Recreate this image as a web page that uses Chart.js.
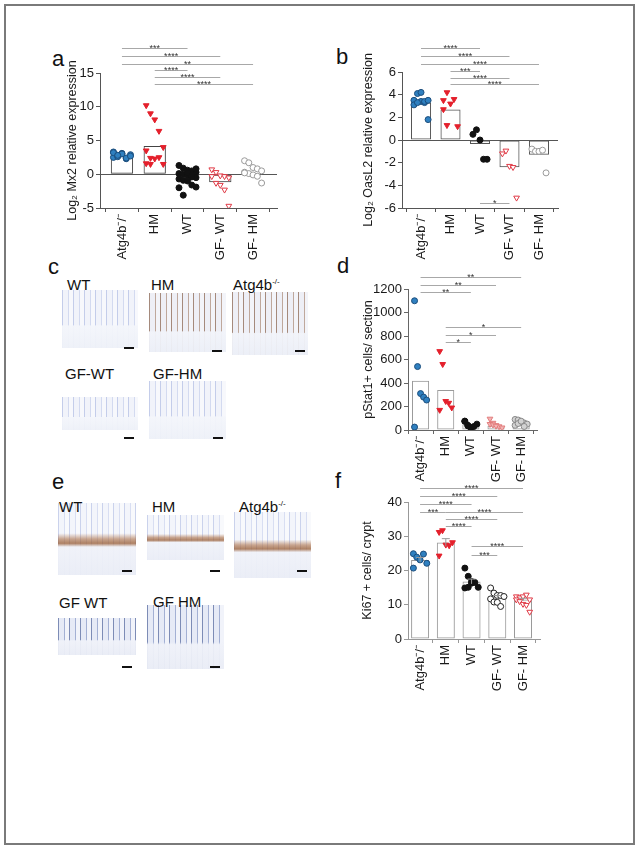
<!DOCTYPE html>
<html>
<head>
<meta charset="utf-8">
<script src="https://cdn.jsdelivr.net/npm/chart.js"></script>
<style>
  body { margin: 0; background: #fff; font-family: "Liberation Sans", Arial, sans-serif; }
  #page { position: relative; width: 639px; height: 849px; overflow: hidden; }
  #frame { position: absolute; left: 4px; top: 4px; width: 627px; height: 837px; border: 2px solid #7a7a7a; }
  canvas { position: absolute; }
  .letter { position: absolute; font-size: 22px; color: #111; line-height: 1; }
  .lbl { position: absolute; font-size: 15px; color: #111; line-height: 1; white-space: nowrap; z-index: 2; }
  .lbl sup { font-size: 8px; vertical-align: 6px; }
  .tile { position: absolute; }
  .blue {
    background:
      linear-gradient(to bottom, rgba(255,255,255,0) 0%, rgba(255,255,255,0) 60%, rgba(244,246,251,0.95) 62%, rgba(238,241,248,0.95) 100%),
      repeating-linear-gradient(90deg, #c4cdea 0 1px, #f1f3fa 1px 6px, #d3daf0 6px 7px, #f7f8fc 7px 11px);
  }
  .brownc {
    background:
      linear-gradient(to bottom, rgba(255,255,255,0) 0%, rgba(255,255,255,0) 64%, rgba(242,244,250,0.95) 66%, rgba(236,239,247,0.95) 100%),
      repeating-linear-gradient(90deg, #a58a7c 0 1px, #eeeff6 1px 6px, #bfa89c 6px 7px, #f3f4f9 7px 11px);
  }
  .browne {
    background:
      linear-gradient(to bottom, rgba(255,255,255,0) 0%, rgba(255,255,255,0) 42%, rgba(170,110,70,0.6) 50%, rgba(150,90,50,0.75) 56%, rgba(240,242,249,0.95) 61%, rgba(234,237,246,0.95) 100%),
      repeating-linear-gradient(90deg, #cad2ec 0 1px, #f3f5fb 1px 6px, #d8def2 6px 7px, #f8f9fc 7px 11px);
  }
  .bluee {
    background:
      linear-gradient(to bottom, rgba(255,255,255,0) 0%, rgba(255,255,255,0) 58%, rgba(240,242,249,0.95) 62%, rgba(234,237,246,0.95) 100%),
      repeating-linear-gradient(90deg, #7d8cb6 0 1px, #e6eaf6 1px 6px, #a3b0d4 6px 7px, #f1f3fa 7px 11px);
  }
  .bar { position: absolute; width: 10px; height: 1.5px; background: #111; z-index: 2; }
</style>
</head>
<body>
<div id="page">
  <div id="frame"></div>

  <div class="letter" style="left:52px;top:48px;">a</div>
  <div class="letter" style="left:336px;top:46px;">b</div>
  <div class="letter" style="left:48px;top:256px;">c</div>
  <div class="letter" style="left:337px;top:255px;">d</div>
  <div class="letter" style="left:52px;top:471px;">e</div>
  <div class="letter" style="left:335px;top:470px;">f</div>

  <!-- c: pStat1 stained sections -->
  <div class="lbl" style="left:67px;top:277px;">WT</div>
  <div class="lbl" style="left:151px;top:277px;">HM</div>
  <div class="lbl" style="left:233px;top:277px;">Atg4b<sup>-/-</sup></div>
  <div class="tile blue" style="left:62px;top:290px;width:76px;height:58px;"></div>
  <div class="tile brownc" style="left:149px;top:293px;width:77px;height:59px;"></div>
  <div class="tile brownc" style="left:232px;top:292px;width:76px;height:63px;"></div>
  <div class="bar" style="left:124px;top:347px;"></div>
  <div class="bar" style="left:212px;top:350px;"></div>
  <div class="bar" style="left:295px;top:350px;"></div>
  <div class="lbl" style="left:65px;top:366px;">GF-WT</div>
  <div class="lbl" style="left:153px;top:366px;">GF-HM</div>
  <div class="tile blue" style="left:62px;top:397px;width:76px;height:33px;"></div>
  <div class="tile blue" style="left:149px;top:381px;width:77px;height:58px;"></div>
  <div class="bar" style="left:124px;top:437px;"></div>
  <div class="bar" style="left:213px;top:437px;"></div>

  <!-- e: Ki67 stained sections -->
  <div class="lbl" style="left:59px;top:499px;">WT</div>
  <div class="lbl" style="left:152px;top:499px;">HM</div>
  <div class="lbl" style="left:239px;top:499px;">Atg4b<sup>-/-</sup></div>
  <div class="tile browne" style="left:58px;top:503px;width:78px;height:72px;"></div>
  <div class="tile browne" style="left:147px;top:515px;width:77px;height:45px;"></div>
  <div class="tile browne" style="left:234px;top:512px;width:77px;height:66px;"></div>
  <div class="bar" style="left:122px;top:570px;"></div>
  <div class="bar" style="left:210px;top:570px;"></div>
  <div class="bar" style="left:297px;top:570px;"></div>
  <div class="lbl" style="left:59px;top:595px;">GF WT</div>
  <div class="lbl" style="left:153px;top:594px;">GF HM</div>
  <div class="tile bluee" style="left:58px;top:618px;width:78px;height:37px;"></div>
  <div class="tile bluee" style="left:147px;top:605px;width:77px;height:64px;"></div>
  <div class="bar" style="left:122px;top:666px;"></div>
  <div class="bar" style="left:210px;top:666px;"></div>

  <canvas id="mx2Chart" width="240" height="240" style="left:50px;top:30px;"></canvas>
  <canvas id="oasChart" width="225" height="240" style="left:345px;top:30px;"></canvas>
  <canvas id="pstatChart" width="205" height="240" style="left:345px;top:250px;"></canvas>
  <canvas id="ki67Chart" width="207" height="230" style="left:345px;top:470px;"></canvas>
</div>

<script>
// groups on every x axis
var groups = ["Atg4b\u207b/\u207b", "HM", "WT", "GF- WT", "GF- HM"];

// a: Mx2 (log2 relative expression)
var mx2Atg4b = [2.5, 2.8, 3.1, 2.3, 2.9, 3.3, 2.6, 3.0, 2.4, 2.7, 3.2, 2.8];
var mx2HM = [10.2, 9.0, 8.1, 6.4, 4.0, 3.5, 2.4, 2.3, 2.5, 1.5, 1.6, 1.5];
var mx2WT = [1.3, 0.9, 0.6, 0.5, 0.3, 0.1, 0, -0.2, -0.4, -0.5, -0.7, -0.9, -1.0, -1.6, -1.9, -2.0, -3.1, 0.2, -0.3, 0.8];
var mx2GFWT = [0.7, 0.3, -0.2, -0.3, -0.5, -0.3, -1.3, -1.6, -2.3, -4.7];
var mx2GFHM = [2.0, 1.7, 1.0, 0.8, 0.5, 0.3, 0.1, -0.1, -0.3, -1.3, 0.2];
var mx2Bars = [2.7, 4.2, -0.3, -1.2, 0.1];
var mx2Sig = [[0, 2, "***"], [0, 3, "****"], [0, 4, "**"], [1, 2, "****"], [1, 3, "****"], [1, 4, "****"]];

// b: OasL2 (log2 relative expression)
var oasAtg4b = [3.5, 4.1, 3.4, 3.3, 1.8, 3.1, 3.3, 4.2, 3.4, 3.5];
var oasHM = [3.5, 4.2, 3.2, 3.6, 1.2, 2.7, 1.3];
var oasWT = [0.5, 0.9, 0.0, -1.7, -1.7];
var oasGFWT = [-1.2, -0.95, -2.3, -2.4, -5.1];
var oasGFHM = [-0.8, -1.0, -1.0, -0.9, -2.9];
var oasBars = [3.3, 2.7, -0.35, -2.4, -1.3];
var oasSig = [[0, 2, "****"], [0, 3, "****"], [0, 4, "****"], [1, 2, "***"], [1, 3, "****"], [1, 4, "****"], [2, 3, "*"]];

// d: pStat1+ cells per section
var pstatAtg4b = [1100, 540, 310, 280, 255, 25];
var pstatHM = [670, 560, 245, 230, 190, 170];
var pstatWT = [75, 35, 20, 30, 50, 75, 40];
var pstatGFWT = [95, 60, 40, 30, 20, 50, 45, 35];
var pstatGFHM = [90, 85, 70, 60, 50, 40, 55, 75, 30];
var pstatBars = [420, 340, 48, 37, 56];
var pstatSig = [[0, 4, "**"], [0, 3, "**"], [0, 2, "**"], [1, 4, "*"], [1, 3, "*"], [1, 2, "*"]];

// f: Ki67+ cells per crypt
var ki67Atg4b = [24.9, 23.9, 23.1, 24.8, 22.1, 20.7];
var ki67HM = [31.2, 31.7, 27.5, 27.3, 28.2, 24.3];
var ki67WT = [20.7, 18.3, 16.8, 16.5, 15.1, 14.9, 15.1, 16.3];
var ki67GFWT = [14.9, 13.4, 12.7, 12.7, 12.4, 11.7, 10.8, 10.7, 9.5];
var ki67GFHM = [12.4, 12.1, 12.4, 12.9, 11.5, 11.5, 11.0, 10.2, 9.9, 7.9];
var ki67Bars = [23.1, 28.2, 16.8, 12.2, 11.5];
var ki67Sem = [0.7, 1.1, 0.7, 0.5, 0.4];
var ki67Sig = [[0, 4, "****"], [0, 3, "****"], [0, 2, "****"], [0, 1, "***"], [1, 4, "****"], [1, 3, "****"], [1, 2, "****"], [2, 4, "****"], [2, 3, "***"]];

// marker looks
var dotBlue = { style: "circle", fill: "#2f80c0", line: "#1b4d7c", rot: 0 };
var triRed = { style: "triangle", fill: "#e4202c", line: "#e4202c", rot: 180 };
var dotBlack = { style: "circle", fill: "#111", line: "#111", rot: 0 };
var triOpenRed = { style: "triangle", fill: "#fff", line: "#e03a46", rot: 180 };
var dotOpenGray = { style: "circle", fill: "#fff", line: "#9a9a9a", rot: 0 };
var triPink = { style: "triangle", fill: "#f3b3b3", line: "#e27d7d", rot: 180 };
var dotGray = { style: "circle", fill: "#d2d2d2", line: "#8a8a8a", rot: 0 };
var dotOpenBlack = { style: "circle", fill: "#fff", line: "#222", rot: 0 };

var tickFont = { family: "'Liberation Sans', Arial, sans-serif", size: 13 };
var titleFont = { family: "'Liberation Sans', Arial, sans-serif", size: 12.5 };

// spread the dots of one group sideways
function spreadPoints(values, idx, step) {
  var pts = [];
  var cols = Math.min(values.length, 5);
  for (var k = 0; k < values.length; k++) {
    var off = ((k % cols) - (cols - 1) / 2) * step;
    pts.push({ x: idx + off, y: values[k] });
  }
  return pts;
}

function drawBrackets(chart, sig, rows) {
  var ctx = chart.ctx;
  var xs = chart.scales.x;
  var top = chart.chartArea.top;
  ctx.save();
  ctx.strokeStyle = "#a8a8a8";
  ctx.lineWidth = 1;
  ctx.fillStyle = "#333";
  ctx.font = "9px 'Liberation Sans', Arial, sans-serif";
  ctx.textAlign = "center";
  ctx.textBaseline = "alphabetic";
  for (var k = 0; k < sig.length; k++) {
    var x1 = xs.getPixelForValue(sig[k][0]);
    var x2 = xs.getPixelForValue(sig[k][1]);
    var y = Math.round(top + rows[k]) + 0.5;
    ctx.beginPath();
    ctx.moveTo(x1, y);
    ctx.lineTo(x2, y);
    ctx.stroke();
    ctx.fillText(sig[k][2], (x1 + x2) / 2, y + 2);
  }
  ctx.restore();
}

function drawErrors(chart, bars, sem) {
  var ctx = chart.ctx;
  var xs = chart.scales.x;
  var ys = chart.scales.y;
  ctx.save();
  ctx.strokeStyle = "#9a9a9a";
  ctx.lineWidth = 1;
  for (var i = 0; i < bars.length; i++) {
    var x = xs.getPixelForValue(i);
    var y1 = ys.getPixelForValue(bars[i] + sem[i]);
    var y2 = ys.getPixelForValue(bars[i] - sem[i]);
    ctx.beginPath();
    ctx.moveTo(x, y1);
    ctx.lineTo(x, y2);
    ctx.moveTo(x - 4, y1);
    ctx.lineTo(x + 4, y1);
    ctx.stroke();
  }
  ctx.restore();
}

function makePanel(p) {
  var datasets = [];
  for (var g = 0; g < p.series.length; g++) {
    var look = p.looks[g];
    datasets.push({
      type: "scatter",
      data: spreadPoints(p.series[g], g, p.step),
      pointStyle: look.style,
      pointRotation: look.rot,
      pointBackgroundColor: look.fill,
      pointBorderColor: look.line,
      pointBorderWidth: 1,
      pointRadius: look.style === "triangle" ? 3.3 : 3,
      order: 1,
    });
  }
  datasets.push({
    type: "bar",
    data: p.bars.map(function (v, i) {
      return { x: i, y: v };
    }),
    backgroundColor: "rgba(255,255,255,0)",
    borderColor: p.barLine,
    borderWidth: 1,
    borderSkipped: false,
    barPercentage: p.barPct,
    categoryPercentage: 1,
    order: 10,
  });

  new Chart(document.getElementById(p.id).getContext("2d"), {
    type: "bar",
    data: { datasets: datasets },
    plugins: [
      {
        id: "extras",
        afterDatasetsDraw: function (chart) {
          if (p.sem) drawErrors(chart, p.bars, p.sem);
          drawBrackets(chart, p.sig, p.rows);
        },
      },
    ],
    options: {
      responsive: false,
      animation: false,
      layout: { padding: p.pad },
      plugins: { legend: { display: false }, tooltip: { enabled: false } },
      scales: {
        x: {
          type: "linear",
          min: p.xMin,
          max: p.xMax,
          offset: false,
          afterBuildTicks: function (s) {
            s.ticks = groups.map(function (g, i) {
              return { value: i };
            });
          },
          afterFit: function (s) {
            s.height = p.xH;
          },
          ticks: {
            callback: function (v) {
              return groups[v];
            },
            autoSkip: false,
            minRotation: 90,
            maxRotation: 90,
            padding: 2,
            font: tickFont,
            color: "#1a1a1a",
          },
          grid: { drawOnChartArea: false, tickLength: 4, color: p.axis },
          border: { color: p.axis },
        },
        y: {
          min: p.yMin,
          max: p.yMax,
          afterFit: function (s) {
            s.width = p.yW;
          },
          ticks: {
            stepSize: p.yStep,
            padding: 2,
            font: tickFont,
            color: "#1a1a1a",
            callback: function (v) {
              return String(v);
            },
          },
          grid: {
            tickLength: 4,
            tickColor: p.axis,
            color: function (c) {
              return p.zeroLine && c.tick && c.tick.value === 0 ? "#555" : "rgba(0,0,0,0)";
            },
          },
          border: { color: p.axis },
          title: { display: true, text: p.title, font: titleFont, color: "#1a1a1a", padding: { top: 4, bottom: 4 } },
        },
      },
    },
  });
}

// a
makePanel({
  id: "mx2Chart",
  series: [mx2Atg4b, mx2HM, mx2WT, mx2GFWT, mx2GFHM],
  looks: [dotBlue, triRed, dotBlack, triOpenRed, dotOpenGray],
  bars: mx2Bars, barLine: "#444", barPct: 0.68, step: 0.13,
  sig: mx2Sig, rows: [-25, -17, -9, -3, 4, 11],
  title: "Log\u2082 Mx2 relative expression",
  yMin: -5, yMax: 15, yStep: 5, zeroLine: true, axis: "#555",
  xMin: -0.67, xMax: 4.73,
  pad: { top: 43, left: 11, right: 13, bottom: 2 }, yW: 39, xH: 60,
});

// b
makePanel({
  id: "oasChart",
  series: [oasAtg4b, oasHM, oasWT, oasGFWT, oasGFHM],
  looks: [dotBlue, triRed, dotBlack, triOpenRed, dotOpenGray],
  bars: oasBars, barLine: "#555", barPct: 0.68, step: 0.12,
  sig: oasSig, rows: [-24, -16, -8, -1, 6, 12, 131],
  title: "Log\u2082 OasL2 relative expression",
  yMin: -6, yMax: 6, yStep: 2, zeroLine: true, axis: "#555",
  xMin: -0.645, xMax: 4.645,
  pad: { top: 42, left: 12, right: 12, bottom: 2 }, yW: 45, xH: 60,
});

// d
makePanel({
  id: "pstatChart",
  series: [pstatAtg4b, pstatHM, pstatWT, pstatGFWT, pstatGFHM],
  looks: [dotBlue, triRed, dotBlack, triPink, dotGray],
  bars: pstatBars, barLine: "#9a9a9a", barPct: 0.68, step: 0.12,
  sig: pstatSig, rows: [-12, -4, 3, 38, 46, 53],
  title: "pStat1+ cells/ section",
  yMin: 0, yMax: 1200, yStep: 200, zeroLine: false, axis: "#666",
  xMin: -0.5, xMax: 4.63,
  pad: { top: 39, left: 12, right: 13, bottom: 2 }, yW: 51, xH: 58,
});

// f
makePanel({
  id: "ki67Chart",
  series: [ki67Atg4b, ki67HM, ki67WT, ki67GFWT, ki67GFHM],
  looks: [dotBlue, triRed, dotBlack, dotOpenBlack, triOpenRed],
  bars: ki67Bars, barLine: "#9a9a9a", barPct: 0.7, step: 0.13,
  sig: ki67Sig, rows: [-14, -6, 2, 10, 10, 17, 24, 44, 53],
  sem: ki67Sem,
  title: "Ki67 + cells/ crypt",
  yMin: 0, yMax: 40, yStep: 10, zeroLine: false, axis: "#999",
  xMin: -0.47, xMax: 4.66,
  pad: { top: 32, left: 11, right: 12, bottom: 1 }, yW: 52, xH: 60,
});
</script>
</body>
</html>
